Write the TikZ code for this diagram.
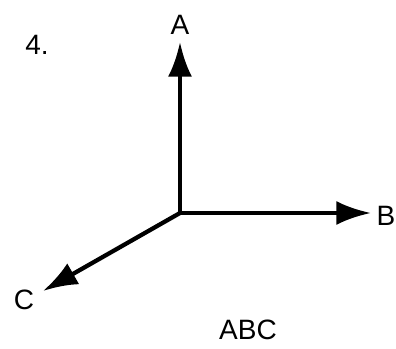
\documentclass[tikz,border=0pt]{standalone}
\usepackage{fontspec}
\setmainfont{Liberation Sans}
\usepackage{tikz}
\usetikzlibrary{arrows.meta,positioning}

\begin{document}
\begin{tikzpicture}[
  x=0.75pt, y=-0.75pt,
  axis/.style={line width=3.2pt, -{Latex[length=26pt, width=18pt]}},
  lbl/.style={font=\fontsize{21}{24}\selectfont, inner sep=0pt}
]
\useasboundingbox (0,0) rectangle (396,349);

\coordinate (o) at (180,213);
\coordinate (tipA) at (180,42);
\coordinate (tipB) at (371,213);
\coordinate (tipC) at (43,291);

\draw[axis] (o) -- (tipA);
\draw[axis] (o) -- (tipB);
\draw[axis] (o) -- (tipC);

\node[lbl] (labA) at (180,25) {A};
\node[lbl] (labB) at (386,216) {B};
\node[lbl] (labC) at (24,300) {C};
\node[lbl] (num) at (37,45) {4.};
\node[lbl] (title) at (248,330) {ABC};

\end{tikzpicture}
\end{document}
